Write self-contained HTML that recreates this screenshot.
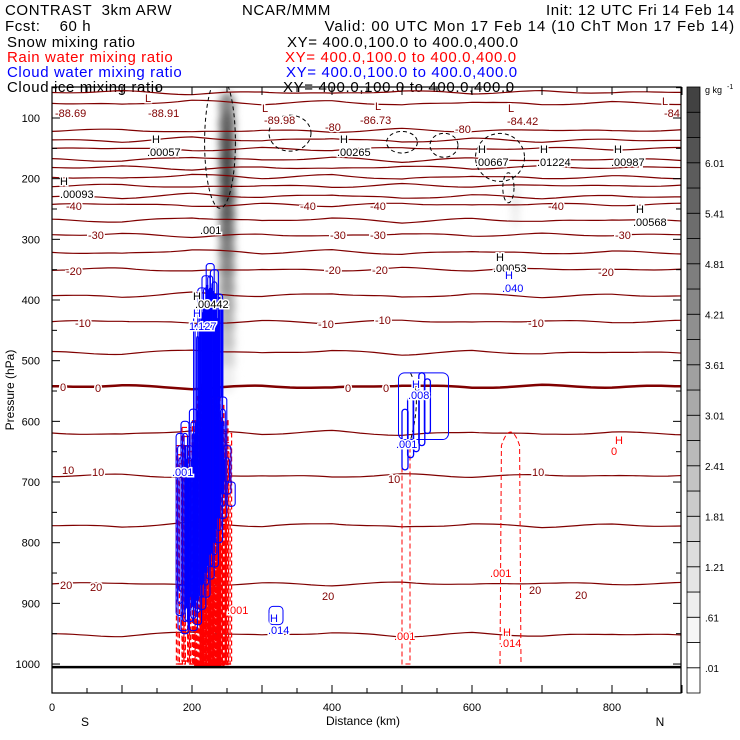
<!DOCTYPE html>
<html><head><meta charset="utf-8">
<style>
html,body{margin:0;padding:0;background:#fff;}
#wrap{position:relative;width:740px;height:740px;overflow:hidden;font-family:"Liberation Sans",sans-serif;}
.hd{position:absolute;font-size:15px;white-space:pre;line-height:15px;letter-spacing:0.6px;}
svg text{font-family:"Liberation Sans",sans-serif;}
</style></head>
<body>
<div id="wrap">
<div class="hd" style="left:5px;top:3px">CONTRAST  3km ARW</div>
<div class="hd" style="left:242px;top:3px">NCAR/MMM</div>
<div class="hd" style="right:5px;top:3px">Init: 12 UTC Fri 14 Feb 14</div>
<div class="hd" style="left:5px;top:19px">Fcst:    60 h</div>
<div class="hd" style="right:5px;top:19px;letter-spacing:0.9px">Valid: 00 UTC Mon 17 Feb 14 (10 ChT Mon 17 Feb 14)</div>
<div class="hd" style="left:7px;top:35px">Snow mixing ratio</div>
<div class="hd" style="left:287px;top:35px;letter-spacing:0.65px">XY= 400.0,100.0 to 400.0,400.0</div>
<div class="hd" style="left:7px;top:50px;color:#f00">Rain water mixing ratio</div>
<div class="hd" style="left:285px;top:50px;color:#f00;letter-spacing:0.65px">XY= 400.0,100.0 to 400.0,400.0</div>
<div class="hd" style="left:7px;top:65px;color:#00f">Cloud water mixing ratio</div>
<div class="hd" style="left:286px;top:65px;color:#00f;letter-spacing:0.65px">XY= 400.0,100.0 to 400.0,400.0</div>
<div class="hd" style="left:7px;top:80px">Cloud ice mixing ratio</div>
<div class="hd" style="left:283px;top:80px;letter-spacing:0.65px">XY= 400.0,100.0 to 400.0,400.0</div>
<svg id="chart" width="740" height="740" style="position:absolute;left:0;top:0"></svg>
</div>
<script>
// ---- data ----
const isoLevels = [-90,-85,-80,-75,-70,-65,-60,-55,-50,-45,-40,-35,-30,-25,-20,-15,-10,-5,0,5,10,15,20,25];
const isoBaseP  = [58,75,121,136,151,168,182,197,212,229,243,268,293,321,350,392,436,486,543,619,690,771,868,951];
const xNodesKm  = [0,100,200,300,400,500,600,700,800,900];
const isoWaveP  = [0,3,-4,2,-3,4,-2,3,-1,2];
const snowP     = [80,110,140,170,200,230,260,290,320,350,380,410,440,470,500,530];
const snowV     = [4.5,5.6,6.3,6.6,6.6,6.4,6.0,5.4,4.8,4.3,3.8,3.3,2.8,2.2,1.6,0.9];
const snowXKm   = 250;
const snow2P    = [225,245,265];
const snow2V    = [0.9,1.2,0.9];
const snow2XKm  = 662;
const cwX   = [183,190,196,202,208,214,220,226,232,238,244,250,256];
const cwTop = [620,600,640,580,420,380,360,340,350,390,560,640,700];
const cwBot = [920,950,930,945,935,910,890,860,840,800,760,720,740];
const rainX   = [182,190,198,206,212,218,224,230,236,242,248];
const rainTop = [640,610,650,600,560,540,545,560,575,600,620];
const rainBot = [1000,995,1000,1002,1003,1002,1004,1003,1002,1000,1000];
const pTicks = [100,200,300,400,500,600,700,800,900,1000];
const xTicks = [0,200,400,600,800];
const cbLabels = [".01",".61","1.21","1.81","2.41","3.01","3.61","4.21","4.81","5.41","6.01"];

// ---- axes ----
const X0=52,X1=681,Y0=87,Y1=693;
const X = km => 52 + km*0.7;
const Y = p => 118 + (p-100)*0.6067;
const svg=document.getElementById('chart');
const NS='http://www.w3.org/2000/svg';
function mk(tag,attrs,parent){const e=document.createElementNS(NS,tag);for(const k in attrs)e.setAttribute(k,attrs[k]);(parent||svg).appendChild(e);return e;}
function txt(x,y,s,fill,size,anchor,parent){const t=mk('text',{x:x,y:y,fill:fill||'#000','font-size':size||11,'text-anchor':anchor||'start'},parent);t.textContent=s;return t;}
function interp(km,arr){for(let i=0;i<xNodesKm.length-1;i++){if(km<=xNodesKm[i+1]){const f=(km-xNodesKm[i])/(xNodesKm[i+1]-xNodesKm[i]);return arr[i]+(arr[i+1]-arr[i])*f;}}return arr[arr.length-1];}
function grayFor(v){let i=v<0.01?0:Math.min(23,1+Math.floor((v-0.01)/0.3));const l=i<=1?255:Math.round(255-(i-1)*8.6);return `rgb(${l},${l},${l})`;}

const defs=mk('defs',{});
const f=mk('filter',{id:'blur',x:'-50%',y:'-50%',width:'200%',height:'200%'},defs);
mk('feGaussianBlur',{stdDeviation:'4'},f);
const cp=mk('clipPath',{id:'plotclip'},defs);
mk('rect',{x:X0,y:Y0,width:X1-X0,height:Y1-Y0},cp);

const plot=mk('g',{'clip-path':'url(#plotclip)'});



// snow shading
const sg=mk('g',{filter:'url(#blur)'},plot);


snowP.forEach((p,i)=>{const e=mk('ellipse',{cx:X(snowXKm),cy:Y(p),rx:8,ry:14,fill:grayFor(snowV[i])},sg);

});
snow2P.forEach((p,i)=>{const e=mk('ellipse',{cx:X(snow2XKm),cy:Y(p),rx:4,ry:10,fill:grayFor(snow2V[i])},sg);

});

// isotherms
const ig=mk('g',{},plot);


isoLevels.forEach((lv,j)=>{let d='';for(let km=0;km<=900;km+=10){const w=interp(km,isoWaveP)*(j%2?1:-0.7)+Math.sin(km/23+j)*1.2;d+=(km?'L':'M')+X(km).toFixed(1)+','+Y(isoBaseP[j]+w).toFixed(1);}
const pth=mk('path',{d:d,fill:'none',stroke:'#800000','stroke-width':lv===0?2.5:1.2},ig);

});

// cloud ice (black dashed)
const ice=[[240,140,22,110],[340,125,30,30],[500,140,22,18],[560,145,20,20],[640,165,35,40],[652,215,8,25]];
const icg=mk('g',{},plot);


ice.forEach(c=>{mk('ellipse',{cx:X(c[0]),cy:Y(c[1]),rx:c[2]*0.7,ry:c[3]*0.6,fill:'none',stroke:'#000','stroke-dasharray':'4,3','stroke-width':1},icg);});
mk('path',{d:`M${X(510)},${Y(640)} Q${X(530)},${Y(560)} ${X(512)},${Y(520)}`,fill:'none',stroke:'#000','stroke-dasharray':'4,3'},icg);

// rain (red dashed)
const rg=mk('g',{},plot);


rainX.forEach((km,i)=>{for(let k=0;k<3;k++){const r=mk('rect',{x:X(km)-3+k*1.5,y:Y(rainTop[i]+k*15),width:6-k*3+3,height:Y(rainBot[i])-Y(rainTop[i]+k*15),fill:'none',stroke:'#f00','stroke-width':i>2&&i<10?2.5:1.2,'stroke-dasharray':'5,3'},rg);

}});
mk('rect',{x:X(500),y:Y(630),width:8,height:Y(1000)-Y(630),fill:'none',stroke:'#f00','stroke-dasharray':'5,3'},rg);
mk('path',{d:`M${X(640)},${Y(1000)} L${X(642)},${Y(640)} Q${X(655)},${Y(595)} ${X(668)},${Y(640)} L${X(670)},${Y(1000)}`,fill:'none',stroke:'#f00','stroke-dasharray':'5,3'},rg);

// cloud water (blue)
const cg=mk('g',{},plot);


cwX.forEach((km,i)=>{for(let k=0;k<3;k++){const r=mk('rect',{x:X(km)-4+k*1.5,y:Y(cwTop[i]+k*20),width:8-k*3,height:Y(cwBot[i]-k*20)-Y(cwTop[i]+k*20),rx:3,fill:'none',stroke:'#00f','stroke-width':1.1},cg);

}});
for(let k=0;k<6;k++){mk('line',{x1:X(222)+k*3,x2:X(222)+k*3,y1:Y(375+k*5),y2:Y(560),stroke:'#00f','stroke-width':2},cg);}
mk('rect',{x:X(180),y:Y(870),width:10,height:Y(945)-Y(870),rx:3,fill:'none',stroke:'#00f'},cg);
mk('rect',{x:X(310),y:Y(905),width:14,height:Y(935)-Y(905),rx:4,fill:'none',stroke:'#00f'},cg);
[[500,580,680],[508,560,660],[516,550,650],[524,520,640],[532,530,620]].forEach(c=>mk('rect',{x:X(c[0]),y:Y(c[1]),width:6,height:Y(c[2])-Y(c[1]),rx:3,fill:'none',stroke:'#00f','stroke-width':1.3},cg));
mk('rect',{x:X(495),y:Y(520),width:50,height:Y(630)-Y(520),rx:6,fill:'none',stroke:'#00f'},cg);

// ground line
mk('line',{x1:X0,x2:X1,y1:Y(1005),y2:Y(1005),stroke:'#000','stroke-width':2.5},plot);

// plot labels
const lg=mk('g',{'paint-order':'stroke',stroke:'#fff','stroke-width':3},plot);


const DR='#800000';
[['L',145,102],['-88.91',148,117],['-88.69',55,117],['L',262,112],['-89.98',264,124],['L',375,110],['-86.73',360,124],['L',508,112],['-84.42',507,125],['L',662,105],['-84',664,117],['-80',325,131],['-80',455,133],
['-40',66,210],['-40',300,210],['-40',370,210],['-40',548,210],['-30',88,239],['-30',330,239],['-30',370,239],['-30',615,239],
['-20',66,275],['-20',325,274],['-20',372,274],['-20',598,276],['-10',75,327],['-10',318,328],['-10',375,324],['-10',528,327],
['0',60,391],['0',95,392],['0',345,392],['0',383,392],['10',62,474],['10',92,476],['10',388,483],['10',532,476],
['20',60,589],['20',90,591],['20',322,600],['20',529,594],['20',575,599],['H',615,444],['0',611,455]].forEach(a=>{const t=txt(a[1],a[2],a[0],a[0]==='H'||(a[0]==='0'&&a[1]===611)?'#f00':DR,11,'start',lg);t.setAttribute('stroke','#fff');});
[['H',152,143],['.00057',147,156],['H',340,143],['.00265',337,156],['H',478,153],['.00667',475,166],['H',540,153],['.01224',537,166],['H',614,153],['.00987',611,166],['H',60,185],['.00093',60,198],['H',636,213],['.00568',633,226],['H',496,261],['.00053',493,272],['.001',200,234],['H',193,300],['.00442',195,308]].forEach(a=>txt(a[1],a[2],a[0],'#000',11,'start',lg));
[['H',505,279],['.040',502,292],['H',193,317],['1.127',189,330],['.001',172,476],['H',270,622],['.014',268,634],['.001',396,448],['H',412,388],['.008',408,399]].forEach(a=>txt(a[1],a[2],a[0],'#00f',11,'start',lg));
[['.001',490,577],['H',503,636],['.014',500,647],['.001',394,640],['.001',227,614]].forEach(a=>txt(a[1],a[2],a[0],'#f00',11,'start',lg));

// frame & ticks
const fr=mk('rect',{x:X0,y:Y0,width:X1-X0,height:Y1-Y0,fill:'none',stroke:'#000','stroke-width':1.2});


for(let p=50;p<=1050;p+=50){const y=Y(p);if(y<Y0||y>Y1)continue;const l=p%100===0?8:5;mk('line',{x1:X0,x2:X0+l,y1:y,y2:y,stroke:'#000'});mk('line',{x1:X1,x2:X1-l,y1:y,y2:y,stroke:'#000'});}
for(let km=0;km<=900;km+=50){const x=X(km);const l=km%100===0?8:5;mk('line',{x1:x,x2:x,y1:Y1,y2:Y1-l,stroke:'#000'});mk('line',{x1:x,x2:x,y1:Y0,y2:Y0+l,stroke:'#000'});}
pTicks.forEach(p=>{const t=txt(40,Y(p)+4,String(p),'#000',11,'end');

});
xTicks.forEach(km=>{const t=txt(X(km),711,String(km),'#000',11,'middle');

});
const yt=txt(0,0,'Pressure (hPa)','#000',12,'middle');yt.setAttribute('transform','translate(14,390) rotate(-90)');


const xt=txt(363,725,'Distance (km)','#000',12,'middle');


txt(85,726,'S','#000',12,'middle');
txt(660,726,'N','#000',12,'middle');

// colorbar
const cb=mk('g',{});


const bh=(Y1-Y0)/24;
for(let i=0;i<24;i++){const l=i<=1?255:Math.round(255-(i-1)*8.6);mk('rect',{x:687,y:Y1-(i+1)*bh,width:13,height:bh,fill:`rgb(${l},${l},${l})`,stroke:'#000','stroke-width':0.8},cb);}
cbLabels.forEach((s,k)=>{const t=txt(705,Y1-(2*k+1)*bh+4,s,'#000',10,'start',cb);

});
txt(705,93,'g kg','#000',9,'start',cb);
txt(727,89,'-1','#000',7,'start',cb);
</script>
</body></html>
